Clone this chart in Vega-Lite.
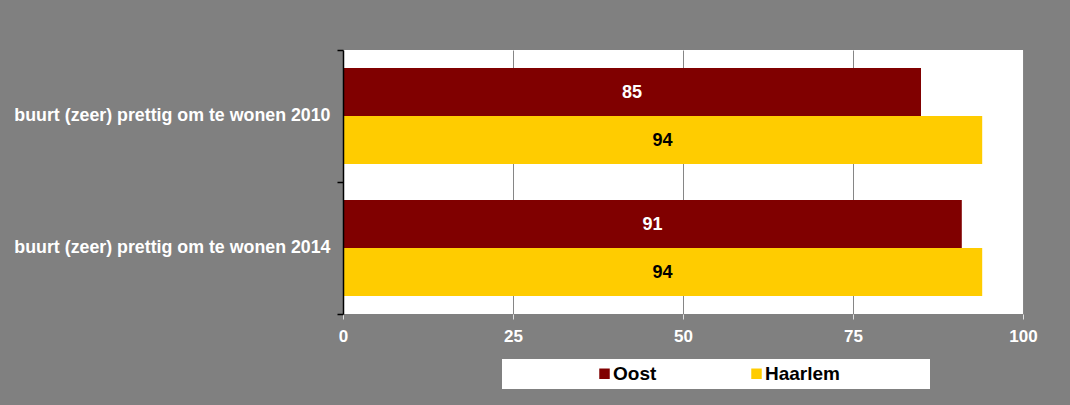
{
  "$schema": "https://vega.github.io/schema/vega-lite/v6.json",
  "width": 680,
  "height": 264,
  "autosize": "none",
  "padding": {"left": 343, "top": 50, "right": 47, "bottom": 91},
  "background": "#808080",
  "data": {
    "values": [
      {"cat": "buurt (zeer) prettig om te wonen 2010", "area": "Oost", "value": 85},
      {"cat": "buurt (zeer) prettig om te wonen 2010", "area": "Haarlem", "value": 94},
      {"cat": "buurt (zeer) prettig om te wonen 2014", "area": "Oost", "value": 91},
      {"cat": "buurt (zeer) prettig om te wonen 2014", "area": "Haarlem", "value": 94}
    ]
  },
  "encoding": {
    "y": {
      "field": "cat",
      "type": "nominal",
      "sort": null,
      "title": null,
      "scale": {"paddingInner": 0, "paddingOuter": 0},
      "axis": {
        "bandPosition": 1,
        "tickExtra": true,
        "domainColor": "black",
        "domainWidth": 1.5,
        "tickColor": "black",
        "tickWidth": 1.5,
        "tickSize": 6,
        "labelPadding": 7,
        "labelColor": "white",
        "labelFont": "Liberation Sans",
        "labelFontWeight": "bold",
        "labelFontSize": 17.8,
        "labelLimit": 400,
        "zindex": 1
      }
    },
    "yOffset": {
      "field": "area",
      "type": "nominal",
      "sort": ["Oost", "Haarlem"],
      "scale": {"paddingInner": 0, "paddingOuter": 0.375}
    }
  },
  "layer": [
    {
      "mark": {"type": "bar"},
      "encoding": {
        "x": {
          "field": "value",
          "type": "quantitative",
          "title": null,
          "scale": {"domain": [0, 100], "nice": false},
          "axis": {
            "values": [0, 25, 50, 75, 100],
            "domain": false,
            "grid": true,
            "gridColor": "#868686",
            "gridWidth": 1,
            "tickColor": "#e0e0e0",
            "tickSize": 5,
            "labelPadding": 9,
            "labelFlush": false,
            "labelColor": "white",
            "labelFont": "Liberation Sans",
            "labelFontWeight": "bold",
            "labelFontSize": 17
          }
        },
        "color": {
          "field": "area",
          "type": "nominal",
          "sort": ["Oost", "Haarlem"],
          "scale": {"domain": ["Oost", "Haarlem"], "range": ["#800000", "#FFCC00"]},
          "legend": {
            "orient": "none",
            "legendX": 159,
            "legendY": 309,
            "direction": "horizontal",
            "fillColor": "white",
            "padding": 5,
            "title": null,
            "symbolType": "square",
            "symbolSize": 110,
            "symbolStrokeWidth": 0,
            "symbolOpacity": 1,
            "symbolOffset": 88,
            "labelOffset": -1,
            "labelFont": "Liberation Sans",
            "labelFontWeight": "bold",
            "labelFontSize": 19,
            "labelColor": "black",
            "labelLimit": 400,
            "columnPadding": 2,
            "labelExpr": "datum.label == 'Haarlem' ? 'Haarlem\u00a0\u00a0\u00a0\u00a0\u00a0\u00a0\u00a0\u00a0\u00a0\u00a0\u00a0\u00a0\u00a0\u00a0\u00a0\u00a0\u200b' : datum.label"
          }
        }
      }
    },
    {
      "mark": {
        "type": "text",
        "align": "center",
        "baseline": "middle",
        "dy": 1,
        "font": "Liberation Sans",
        "fontWeight": "bold",
        "fontSize": 18
      },
      "encoding": {
        "x": {
          "field": "value",
          "type": "quantitative",
          "scale": {"domain": [0, 200], "nice": false},
          "axis": null
        },
        "text": {"field": "value", "type": "quantitative"},
        "color": {
          "condition": {"test": "datum.area == 'Oost'", "value": "white"},
          "value": "black"
        }
      }
    }
  ],
  "resolve": {"scale": {"x": "independent"}},
  "config": {
    "view": {"fill": "white", "stroke": null}
  }
}
